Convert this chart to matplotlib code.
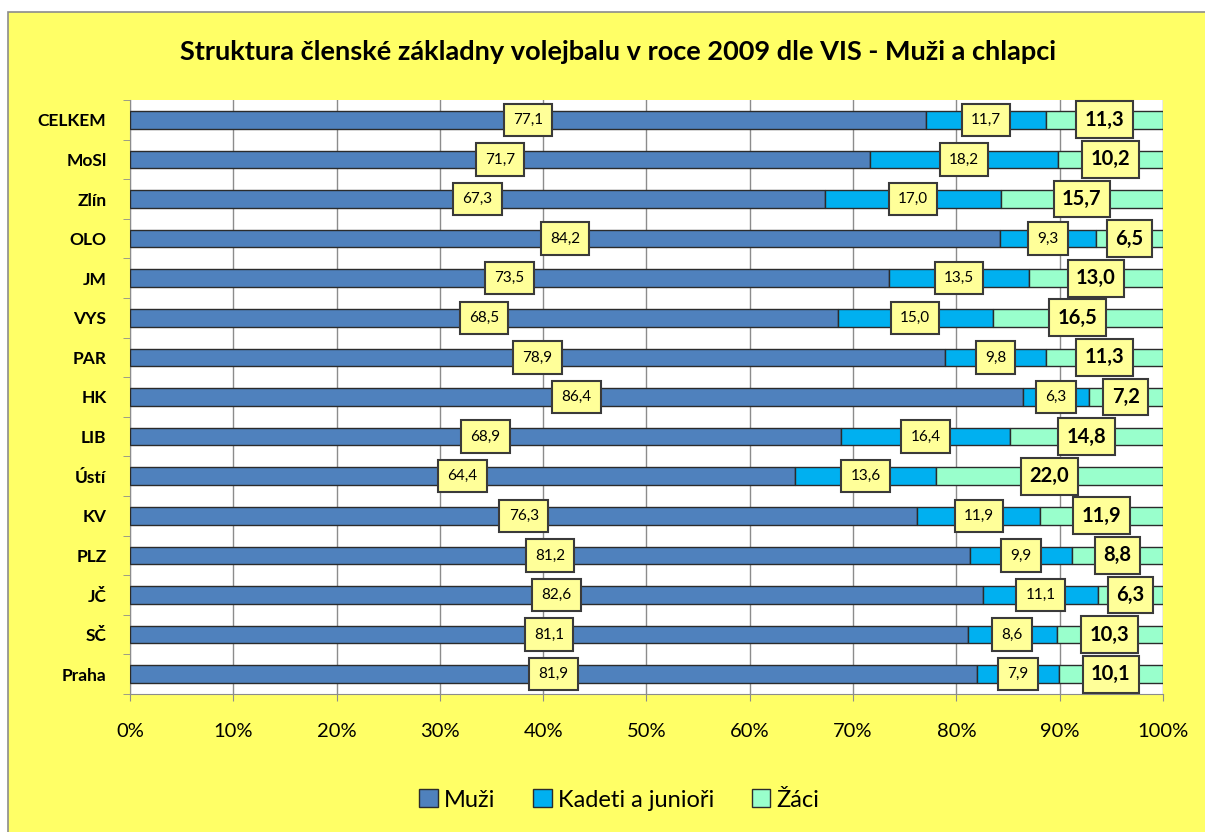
import matplotlib
matplotlib.use("Agg")
import matplotlib.pyplot as plt
from matplotlib.patches import Rectangle
from matplotlib.ticker import FixedLocator, FuncFormatter
import numpy as np

plt.rcParams['font.family'] = ['Lato', 'DejaVu Sans']

categories = ["CELKEM", "MoSl", "Zlín", "OLO", "JM", "VYS", "PAR", "HK", "LIB",
              "Ústí", "KV", "PLZ", "JČ", "SČ", "Praha"]
muzi = [77.1, 71.7, 67.3, 84.2, 73.5, 68.5, 78.9, 86.4, 68.9, 64.4, 76.3, 81.2, 82.6, 81.1, 81.9]
kadeti = [11.7, 18.2, 17.0, 9.3, 13.5, 15.0, 9.8, 6.3, 16.4, 13.6, 11.9, 9.9, 11.1, 8.6, 7.9]
zaci = [11.3, 10.2, 15.7, 6.5, 13.0, 16.5, 11.3, 7.2, 14.8, 22.0, 11.9, 8.8, 6.3, 10.3, 10.1]
series_names = ["Muži", "Kadeti a junioři", "Žáci"]
colors = ["#4F81BD", "#00B0F0", "#99FFCC"]
title = "Struktura členské základny volejbalu v roce 2009 dle VIS - Muži a chlapci"

W, H = 1205, 832
fig = plt.figure(figsize=(W / 100, H / 100), dpi=100)
fig.patch.set_facecolor("white")
fig.patches.append(Rectangle((8 / W, -0.1), 1.2, 1.1 - 12 / H, transform=fig.transFigure,
                             facecolor="#FFFF66", edgecolor="#8C8C8C", linewidth=1.2, zorder=-10))

ax = fig.add_axes([130 / W, 1 - 694 / H, (1163 - 130) / W, (694 - 100) / H])
ax.set_facecolor("white")

data = np.array([muzi, kadeti, zaci], dtype=float)
totals = data.sum(axis=0)
pct = data / totals * 100
n = len(categories)
y = np.arange(n)

left = np.zeros(n)
for i in range(3):
    ax.barh(y, pct[i], left=left, height=0.44, color=colors[i], edgecolor="#2B2B2B",
            linewidth=1.0, label=series_names[i], zorder=3)
    for j in range(n):
        cx = left[j] + pct[i][j] / 2
        txt = f"{data[i][j]:.1f}".replace(".", ",")
        if i < 2:
            ax.text(cx, y[j], txt, ha="center", va="center", fontsize=11, zorder=5,
                    bbox=dict(boxstyle="square,pad=0.6", facecolor="#FFFF99",
                              edgecolor="#3A3A3A", linewidth=1.5))
        else:
            ax.text(cx, y[j], txt, ha="center", va="center", fontsize=14.5, fontweight="bold",
                    zorder=5, bbox=dict(boxstyle="square,pad=0.42", facecolor="#FFFF99",
                                        edgecolor="#3A3A3A", linewidth=1.5))
    left = left + pct[i]

ax.set_xlim(0, 100)
ax.set_ylim(n - 0.5, -0.5)
ax.xaxis.set_major_locator(FixedLocator(np.arange(0, 101, 10)))
ax.xaxis.set_major_formatter(FuncFormatter(lambda v, p: f"{int(round(v))}%"))
ax.grid(axis="x", color="#8C8C8C", linewidth=1.0, zorder=0)
ax.set_axisbelow(True)

ax.set_yticks(y)
ax.set_yticklabels(categories, fontsize=12.5, fontweight="bold")
ax.yaxis.set_minor_locator(FixedLocator(np.arange(-0.5, n, 1)))
ax.tick_params(axis="y", which="major", length=0, pad=17)
ax.tick_params(axis="y", which="minor", length=5, color="#8C8C8C", direction="out")
ax.tick_params(axis="x", length=5, color="#8C8C8C", labelsize=14.5, pad=16)
for s in ["top", "right"]:
    ax.spines[s].set_visible(False)
ax.spines["left"].set_color("#8C8C8C")
ax.spines["bottom"].set_color("#8C8C8C")

fig.text(618 / W, 1 - 52 / H, title, ha="center", va="center", fontsize=19.5, fontweight="bold")

handles, labels = ax.get_legend_handles_labels()
leg = fig.legend(handles, labels, loc="center", bbox_to_anchor=(619 / W, 1 - 800 / H), ncol=3,
                 frameon=False, fontsize=17, handlelength=0.8, handleheight=0.8,
                 handletextpad=0.25, columnspacing=1.6)

fig.savefig("out.png", dpi=100, facecolor=fig.get_facecolor())
